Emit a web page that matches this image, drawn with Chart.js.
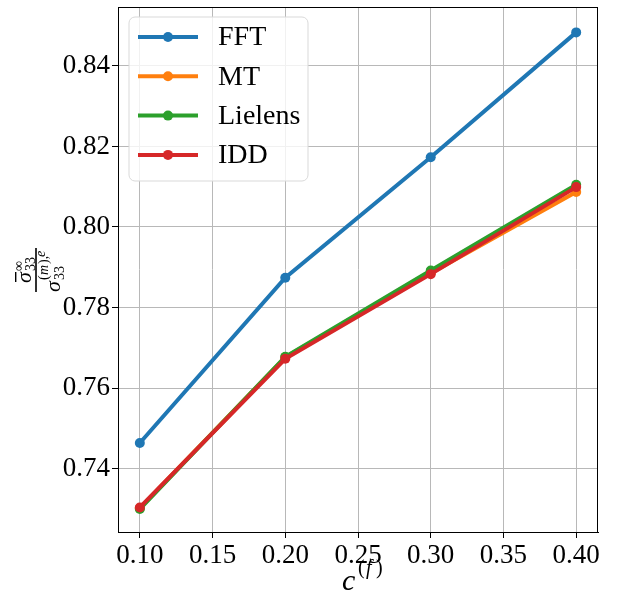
<!DOCTYPE html>
<html>
<head>
<meta charset="utf-8">
<script src="https://cdn.jsdelivr.net/npm/chart.js@4.4.1/dist/chart.umd.min.js"></script>
<style>
  html, body { margin: 0; padding: 0; background: #fff; }
  #wrap { width: 623px; height: 598px; }
</style>
</head>
<body>
<div id="wrap"><canvas id="myChart" width="623" height="598"></canvas></div>
<script>
// data
const cf = [0.10, 0.20, 0.30, 0.40];
const fft = [0.7464, 0.7874, 0.8173, 0.8483];
const mt = [0.7302, 0.7677, 0.7885, 0.8087];
const lielens = [0.7300, 0.7678, 0.7892, 0.8105];
const idd = [0.7304, 0.7673, 0.7883, 0.8099];
const seriesNames = ['FFT', 'MT', 'Lielens', 'IDD'];
const seriesColors = ['#1f77b4', '#ff7f0e', '#2ca02c', '#d62728'];
const xTicks = [0.10, 0.15, 0.20, 0.25, 0.30, 0.35, 0.40];
const yTicks = [0.74, 0.76, 0.78, 0.80, 0.82, 0.84];

const serif = '"Liberation Serif", "DejaVu Serif", serif';
const ctx = document.getElementById('myChart');

function pts(ys) {
    return cf.map((x, i) => ({ x: x, y: ys[i] }));
}

const allSeries = [fft, mt, lielens, idd];
const datasets = allSeries.map((ys, i) => ({
    label: seriesNames[i],
    data: pts(ys),
    borderColor: seriesColors[i],
    backgroundColor: seriesColors[i],
    borderWidth: 4,
    pointRadius: 5,
    pointHoverRadius: 5,
    pointBorderWidth: 0,
    order: allSeries.length - 1 - i   // later series drawn on top, like matplotlib
}));

// frame, legend and math-style axis labels
const extras = {
    id: 'extras',
    afterDraw(chart) {
        const c = chart.ctx;
        const a = chart.chartArea;
        c.save();
        c.strokeStyle = '#000';
        c.lineWidth = 1;
        c.strokeRect(a.left + 0.5, a.top + 0.5, a.right - a.left - 1, a.bottom - a.top);

        // legend box
        const lx = 129, ly = 17, lw = 179, lh = 164, r = 6;
        c.beginPath();
        c.moveTo(lx + r, ly);
        c.arcTo(lx + lw, ly, lx + lw, ly + lh, r);
        c.arcTo(lx + lw, ly + lh, lx, ly + lh, r);
        c.arcTo(lx, ly + lh, lx, ly, r);
        c.arcTo(lx, ly, lx + lw, ly, r);
        c.closePath();
        c.fillStyle = 'rgba(255,255,255,0.8)';
        c.fill();
        c.strokeStyle = '#d9d9d9';
        c.stroke();

        c.font = '28px ' + serif;
        c.textBaseline = 'middle';
        chart.data.datasets.forEach((ds, i) => {
            const y = 37 + i * 39.3;
            c.strokeStyle = ds.borderColor;
            c.lineWidth = 4;
            c.beginPath();
            c.moveTo(138, y);
            c.lineTo(198, y);
            c.stroke();
            c.fillStyle = ds.borderColor;
            c.beginPath();
            c.arc(168, y, 5, 0, Math.PI * 2);
            c.fill();
            c.fillStyle = '#000';
            c.fillText(ds.label, 218, y + 1);
        });

        // x axis title c^(f)
        c.fillStyle = '#000';
        c.textBaseline = 'alphabetic';
        c.font = 'italic 30px ' + serif;
        c.fillText('c', 342, 590);
        c.font = '20px ' + serif;
        c.fillText('(', 358, 574);
        c.font = 'italic 20px ' + serif;
        c.fillText('f', 366, 574);
        c.font = '20px ' + serif;
        c.fillText(')', 376, 574);

        // y axis title as a fraction, rotated
        c.translate(36, 270);
        c.rotate(-Math.PI / 2);
        c.fillRect(-22, -0.8, 44, 1.6);
        // numerator: sigma-bar _33 ^inf
        c.font = 'italic 22px ' + serif;
        c.fillText('\u03c3', -13, -5);
        c.fillRect(-12, -21, 10, 1.4);
        c.font = '14px ' + serif;
        c.fillText('33', -1, -1);
        c.fillText('\u221e', -1, -13);
        // denominator: sigma _33 ^(m),e
        c.font = 'italic 22px ' + serif;
        c.fillText('\u03c3', -22, 24);
        c.font = '14px ' + serif;
        c.fillText('33', -10, 28);
        c.fillText('(', -10, 12);
        c.font = 'italic 14px ' + serif;
        c.fillText('m', -5, 12);
        c.font = '14px ' + serif;
        c.fillText('),', 6, 12);
        c.font = 'italic 14px ' + serif;
        c.fillText('e', 13, 9);
        c.restore();
    }
};

new Chart(ctx, {
    type: 'line',
    data: { datasets: datasets },
    options: {
        responsive: false,
        animation: false,
        layout: { padding: { left: 0, right: 25, top: 7, bottom: 0 } },
        plugins: {
            legend: { display: false },
            tooltip: { enabled: false }
        },
        scales: {
            x: {
                type: 'linear',
                min: 0.085,
                max: 0.415,
                afterBuildTicks: (s) => { s.ticks = xTicks.map(v => ({ value: v })); },
                afterFit: (s) => { s.height = 66; s.paddingLeft = 0; s.paddingRight = 0; },
                ticks: {
                    color: '#000',
                    font: { family: serif, size: 27 },
                    padding: 2,
                    maxRotation: 0,
                    callback: (v) => Number(v).toFixed(2)
                },
                grid: { color: '#b8b8b8', lineWidth: 1, tickColor: '#000', tickLength: 6 },
                border: { color: '#000', width: 1 }
            },
            y: {
                type: 'linear',
                min: 0.7243,
                max: 0.8546,
                afterBuildTicks: (s) => { s.ticks = yTicks.map(v => ({ value: v })); },
                afterFit: (s) => { s.width = 118; s.paddingTop = 0; s.paddingBottom = 0; },
                ticks: {
                    color: '#000',
                    font: { family: serif, size: 27 },
                    padding: 2,
                    callback: (v) => Number(v).toFixed(2)
                },
                grid: { color: '#b8b8b8', lineWidth: 1, tickColor: '#000', tickLength: 6 },
                border: { color: '#000', width: 1 }
            }
        }
    },
    plugins: [extras]
});
</script>
</body>
</html>
